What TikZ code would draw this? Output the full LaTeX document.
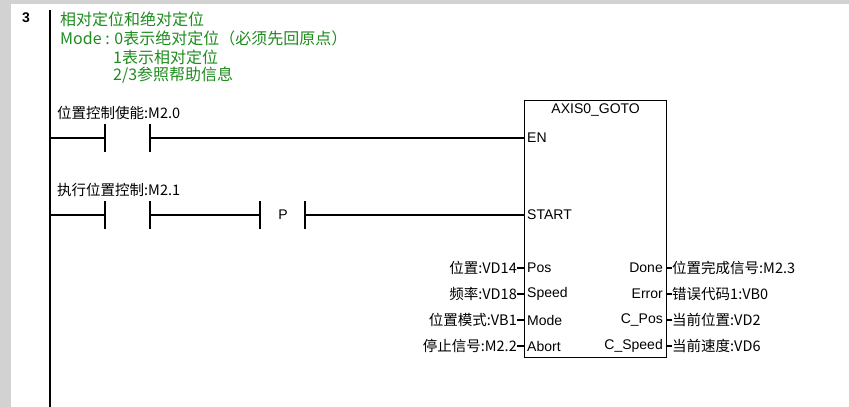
\documentclass[tikz,border=0pt]{standalone}
\usepackage{fontspec}
\setmainfont{Liberation Sans}
\newfontfamily\cjk{Noto Sans CJK SC}
\usetikzlibrary{positioning}
\definecolor{cmtgreen}{RGB}{30,140,30}
\tikzset{
  wire/.style={line width=1.3pt},
  lbl/.style={inner sep=0pt,font=\fontsize{14.5}{14.5}\selectfont\cjk},
  pin/.style={inner sep=0pt,font=\fontsize{14}{14}\selectfont},
  cmt/.style={inner sep=0pt,anchor=west,text=cmtgreen,font=\fontsize{16}{16}\selectfont\cjk}
}
\begin{document}
\begin{tikzpicture}[x=1pt,y=-1pt]
\useasboundingbox (0,0) rectangle (849,407);
\fill[white] (0,0) rectangle (849,407);
\fill[gray!35] (0,0) rectangle (849,4);
\fill[gray!35] (0,0) rectangle (11,407);
\draw (26,18) node[font=\bfseries\fontsize{14}{14}\selectfont] (num) {3};
% power rail
\coordinate (railtop) at (50,10);
\coordinate (railbot) at (50,407);
\draw[wire] (railtop) -- (railbot);
% comment
\node[cmt] (c1) at (60,19) {相对定位和绝对定位};
\node[cmt] (c2) at (60,38) {Mode : 0表示绝对定位（必须先回原点）};
\node[cmt] (c3) at (113,57) {1表示相对定位};
\node[cmt] (c4) at (113,75) {2/3参照帮助信息};
% function block
\node[draw,line width=1.3pt,minimum width=142pt,minimum height=257pt,inner sep=0pt,anchor=north west] (fb) at (524,100) {};
\node[pin,below=4pt of fb.north] (title) {AXIS0\_GOTO};
\foreach \y/\n/\t in {138/en/EN,215/start/START,268/pos/Pos,294/speed/Speed,320/mode/Mode,346/abort/Abort}
  \node[pin,anchor=west] (\n) at (527,\y) {\t};
\foreach \y/\n/\t in {268/done/Done,294/error/Error,320/cpos/C\_Pos,346/cspeed/C\_Speed}
  \node[pin,anchor=east] (\n) at (663,\y) {\t};
% rung 1
\node[lbl,anchor=west] (l1) at (57,113) {位置控制使能:M2.0};
\coordinate (a1) at (105,138); \coordinate (b1) at (150,138);
\draw[wire] (50,138) -- (a1);
\draw[wire] (b1) -- (fb.west |- en);
\draw[wire] ([yshift=-14pt]a1) -- ([yshift=14pt]a1);
\draw[wire] ([yshift=-14pt]b1) -- ([yshift=14pt]b1);
% rung 2
\node[lbl,anchor=west] (l2) at (57,190) {执行位置控制:M2.1};
\coordinate (a2) at (105,215); \coordinate (b2) at (150,215);
\coordinate (p1) at (260,215); \coordinate (p2) at (305,215);
\node[pin] (pl) at (283,215) {P};
\draw[wire] (50,215) -- (a2);
\draw[wire] (b2) -- (p1);
\draw[wire] (p2) -- (fb.west |- start);
\foreach \c in {a2,b2,p1,p2}
  \draw[wire] ([yshift=-14pt]\c) -- ([yshift=14pt]\c);
% inputs
\foreach \n/\t in {pos/位置:VD14,speed/频率:VD18,mode/位置模式:VB1,abort/停止信号:M2.2}{
  \node[lbl,anchor=east] (i\n) at (517,0 |- \n) {\t};
  \draw[wire] (i\n.east) -- (fb.west |- \n);
}
% outputs
\foreach \n/\t in {done/位置完成信号:M2.3,error/错误代码1:VB0,cpos/当前位置:VD2,cspeed/当前速度:VD6}{
  \node[lbl,anchor=west] (o\n) at (672,0 |- \n) {\t};
  \draw[wire] (fb.east |- \n) -- (o\n.west);
}
\end{tikzpicture}
\end{document}
